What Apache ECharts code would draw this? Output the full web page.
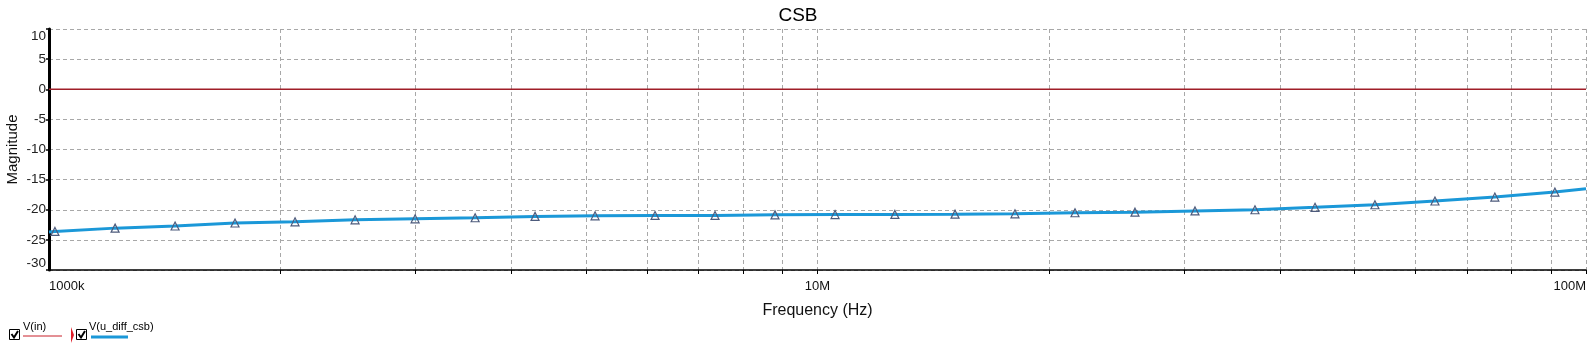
<!DOCTYPE html>
<html>
<head>
<meta charset="utf-8">
<script src="https://cdn.jsdelivr.net/npm/echarts@6/dist/echarts.min.js"></script>
<style>
html,body{margin:0;padding:0;background:#fff;}
#chart{width:1590px;height:353px;}
</style>
</head>
<body>
<div id="chart"></div>
<script>
// Frequencies (Hz) of the V(u_diff_csb) trace samples
const freqs = [1.000e6, 1.018e6, 1.219e6, 1.459e6, 1.746e6, 2.090e6, 2.502e6, 2.995e6, 3.585e6, 4.290e6,
  5.135e6, 6.146e6, 7.356e6, 8.804e6, 10.54e6, 12.61e6, 15.10e6, 18.07e6, 21.63e6, 25.89e6,
  30.99e6, 37.09e6, 44.40e6, 53.13e6, 63.60e6, 76.10e6, 91.10e6, 100.0e6];
// Magnitude (dB) of V(u_diff_csb)
const diffMag = [-23.7, -23.6, -23.05, -22.7, -22.2, -22.0, -21.67, -21.5, -21.33, -21.1,
  -21.0, -20.95, -20.95, -20.85, -20.8, -20.78, -20.73, -20.67, -20.5, -20.4,
  -20.2, -20.0, -19.6, -19.17, -18.55, -17.9, -17.06, -16.5];
// V(in) trace: flat at 0 dB
const inFreqs = [1e6, 1e8];
const inMag = [0, 0];
// Axis ticks
const xGridValues = [2e6,3e6,4e6,5e6,6e6,7e6,8e6,9e6,1e7,2e7,3e7,4e7,5e7,6e7,7e7,8e7,9e7,1e8];
const xLabelValues = [1e6, 1e7, 1e8];
const xLabelTexts = {1000000: '1000k', 10000000: '10M', 100000000: '100M'};

const diffData = freqs.map((f, i) => {
  const item = {value: [f, diffMag[i]]};
  if (i === 0 || i === freqs.length - 1) item.symbol = 'none';
  return item;
});
const inData = inFreqs.map((f, i) => [f, inMag[i]]);

const FONT = '"Liberation Sans", Arial, sans-serif';
const chart = echarts.init(document.getElementById('chart'));
chart.setOption({
  animation: false,
  backgroundColor: '#fff',
  title: {
    text: 'CSB', left: 793, top: 1, textAlign: 'center',
    textStyle: {fontFamily: FONT, fontSize: 19, fontWeight: 'normal', color: '#000'}
  },
  grid: {left: 49, right: 4, top: 29, bottom: 83, containLabel: false, outerBoundsMode: 'none'},
  xAxis: {
    type: 'log', logBase: 10, min: 1e6, max: 1e8,
    name: 'Frequency (Hz)', nameLocation: 'middle', nameGap: 33, nameMoveOverlap: false,
    nameTextStyle: {fontFamily: FONT, fontSize: 16, color: '#111'},
    axisLine: {show: true, onZero: false, lineStyle: {color: '#000', width: 1.5}},
    axisTick: {show: true, length: 4, customValues: xGridValues, lineStyle: {color: '#000'}},
    axisLabel: {
      customValues: xLabelValues, fontFamily: FONT, fontSize: 13, color: '#111', margin: 10,
      alignMinLabel: 'left', alignMaxLabel: 'right',
      formatter: v => xLabelTexts[Math.round(v)] || ''
    },
    splitLine: {show: true, lineStyle: {color: '#a8a8a8', type: [4, 3], width: 1}}
  },
  yAxis: {
    type: 'value', min: -30, max: 10, interval: 5,
    name: 'Magnitude', nameLocation: 'middle', nameGap: 29, nameRotate: 90, nameMoveOverlap: false,
    nameTextStyle: {fontFamily: FONT, fontSize: 15, color: '#111'},
    axisLine: {show: true, lineStyle: {color: '#000', width: 3}},
    axisTick: {show: true, length: 3, lineStyle: {color: '#000', width: 1.5}},
    axisLabel: {
      fontFamily: FONT, fontSize: 13.5, color: '#222', margin: 3,
      verticalAlignMaxLabel: 'top', verticalAlignMinLabel: 'bottom'
    },
    splitLine: {show: true, lineStyle: {color: '#a8a8a8', type: [4, 3], width: 1}}
  },
  series: [
    {
      name: 'V(in)', type: 'line', data: inData, showSymbol: false, symbol: 'none',
      lineStyle: {color: '#a01e28', width: 1.5}, z: 3
    },
    {
      name: 'V(u_diff_csb)', type: 'line', data: diffData,
      symbol: 'triangle', symbolSize: 8, showAllSymbol: true,
      itemStyle: {color: 'rgba(0,0,0,0)', borderColor: '#4d5b7c', borderWidth: 1.2},
      lineStyle: {color: '#1b98d8', width: 3}, z: 4
    }
  ],
  graphic: [
    {type: 'rect', shape: {x: 9.5, y: 329.5, width: 10, height: 10}, style: {fill: '#fff', stroke: '#000', lineWidth: 1}},
    {type: 'polyline', shape: {points: [[11.5, 334], [14, 337.5], [18, 331]]}, style: {stroke: '#000', lineWidth: 2, fill: null}},
    {type: 'text', x: 23, y: 321, style: {text: 'V(in)', fontFamily: FONT, fontSize: 11, fill: '#000'}},
    {type: 'line', shape: {x1: 23, y1: 336, x2: 62, y2: 336}, style: {stroke: '#c8202a', lineWidth: 1}},
    {type: 'polygon', shape: {points: [[71, 327], [74, 335], [71, 343]]}, style: {fill: '#e0202a'}},
    {type: 'rect', shape: {x: 76.5, y: 329.5, width: 10, height: 10}, style: {fill: '#fff', stroke: '#000', lineWidth: 1}},
    {type: 'polyline', shape: {points: [[78.5, 334], [81, 337.5], [85, 331]]}, style: {stroke: '#000', lineWidth: 2, fill: null}},
    {type: 'text', x: 89, y: 321, style: {text: 'V(u_diff_csb)', fontFamily: FONT, fontSize: 11, fill: '#000'}},
    {type: 'line', shape: {x1: 91, y1: 337, x2: 128, y2: 337}, style: {stroke: '#1b98d8', lineWidth: 3}}
  ]
});
</script>
</body>
</html>
